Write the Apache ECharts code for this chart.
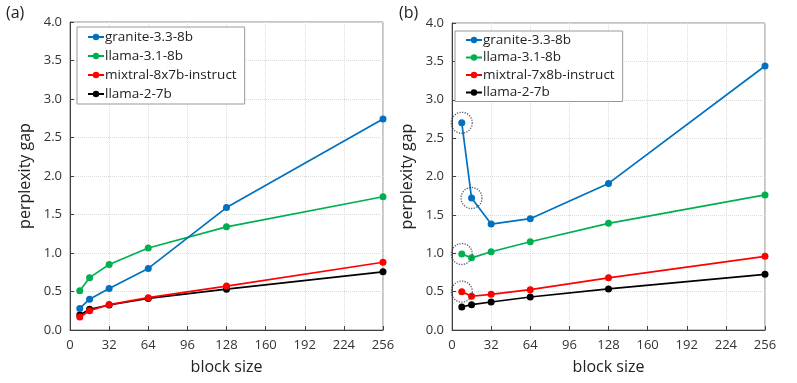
<!DOCTYPE html>
<html><head><meta charset="utf-8">
<script src="https://cdn.jsdelivr.net/npm/echarts@6/dist/echarts.min.js"></script>
<style>html,body{margin:0;padding:0;background:#fff}#c{width:797px;height:383px}</style>
</head><body><div id="c"></div>
<script>
const blockSizes = [8, 16, 32, 64, 128, 256];
const xTicks = [0, 32, 64, 96, 128, 160, 192, 224, 256];
const yTicks = [0, 0.5, 1.0, 1.5, 2.0, 2.5, 3.0, 3.5, 4.0];

const namesA = ['granite-3.3-8b', 'llama-3.1-8b', 'mixtral-8x7b-instruct', 'llama-2-7b'];
const namesB = ['granite-3.3-8b', 'llama-3.1-8b', 'mixtral-7x8b-instruct', 'llama-2-7b'];
const colors = ['#0070C0', '#00B050', '#FF0000', '#000000'];

// panel (a)
const graniteA = [0.28, 0.40, 0.54, 0.80, 1.59, 2.74];
const llama31A = [0.51, 0.68, 0.85, 1.065, 1.34, 1.73];
const mixtralA = [0.17, 0.25, 0.33, 0.42, 0.57, 0.88];
const llama2A  = [0.195, 0.27, 0.325, 0.41, 0.53, 0.755];

// panel (b)
const graniteB = [2.70, 1.72, 1.38, 1.45, 1.91, 3.44];
const llama31B = [0.99, 0.94, 1.02, 1.15, 1.39, 1.76];
const mixtralB = [0.50, 0.44, 0.465, 0.525, 0.68, 0.96];
const llama2B  = [0.30, 0.33, 0.365, 0.43, 0.535, 0.725];

// highlighted (circled) points in panel (b): [series index, point index]
const circled = [[0, 0], [0, 1], [1, 0], [2, 0]];

const seriesA = [graniteA, llama31A, mixtralA, llama2A];
const seriesB = [graniteB, llama31B, mixtralB, llama2B];

const FONT = 'Open Sans';
function pair(vals){ return vals.map((v,i)=>[blockSizes[i], v]); }

function makeX(idx){
  return {
    gridIndex: idx, type: 'value', min: xTicks[0], max: xTicks[xTicks.length-1], interval: 32,
    name: 'block size', nameLocation: 'middle', nameGap: 29,
    nameTextStyle: {fontFamily: FONT, fontSize: 16, color: '#222'},
    axisLine: {show: true, lineStyle: {color: '#404040', width: 1}},
    axisTick: {show: true, inside: true, length: 4, lineStyle: {color: '#404040'}},
    axisLabel: {fontFamily: FONT, fontSize: 13, color: '#333', margin: 9},
    splitLine: {show: true, lineStyle: {color: '#dcdcdc', type: 'dotted', width: 1}}
  };
}
function makeY(idx){
  return {
    gridIndex: idx, type: 'value', min: yTicks[0], max: yTicks[yTicks.length-1], interval: 0.5,
    name: 'perplexity gap', nameLocation: 'middle', nameGap: 37,
    nameTextStyle: {fontFamily: FONT, fontSize: 16, color: '#222'},
    axisLine: {show: true, lineStyle: {color: '#404040', width: 1}},
    axisTick: {show: true, inside: true, length: 4, lineStyle: {color: '#404040'}},
    axisLabel: {fontFamily: FONT, fontSize: 13, color: '#333', margin: 8, formatter: v => v.toFixed(1)},
    splitLine: {show: true, lineStyle: {color: '#dcdcdc', type: 'dotted', width: 1}}
  };
}

const series = [];
seriesA.forEach((vals, i) => series.push({
  name: namesA[i], type: 'line', xAxisIndex: 0, yAxisIndex: 0, data: pair(vals),
  symbol: 'circle', symbolSize: 7, color: colors[i], lineStyle: {width: 1.7}, z: 10 - i
}));
seriesB.forEach((vals, i) => series.push({
  name: namesB[i], type: 'line', xAxisIndex: 1, yAxisIndex: 1, data: pair(vals),
  symbol: 'circle', symbolSize: 7, color: colors[i], lineStyle: {width: 1.7}, z: 10 - i
}));
series.push({
  name: 'circled', type: 'scatter', xAxisIndex: 1, yAxisIndex: 1,
  data: circled.map(([s, p]) => [blockSizes[p], seriesB[s][p]]),
  symbol: 'circle', symbolSize: 21, silent: true, z: 20,
  itemStyle: {color: 'rgba(0,0,0,0)', borderColor: '#2F3B4C', borderWidth: 1.3, borderType: 'dotted'}
});

function legend(names, left, top, gap, pad){
  return {
    data: names.map((n,i)=>({name: n, itemStyle: {color: colors[i]}})),
    orient: 'vertical', left: left, top: top, itemWidth: 16, itemHeight: 8, itemGap: gap,
    padding: pad, borderColor: '#999', borderWidth: 1, backgroundColor: '#fff',
    textStyle: {fontFamily: FONT, fontSize: 13.5, lineHeight: 14, color: '#222', padding: [0,0,0,-4]},
    selectedMode: false
  };
}

const chart = echarts.init(document.getElementById('c'), null, {renderer: 'canvas'});
chart.setOption({
  animation: false,
  backgroundColor: '#fff',
  grid: [
    {left: 70, right: 414, top: 22, bottom: 53, show: true, borderColor: '#8c8c8c', borderWidth: 1},
    {left: 452, right: 32, top: 23, bottom: 53, show: true, borderColor: '#8c8c8c', borderWidth: 1}
  ],
  xAxis: [makeX(0), makeX(1)],
  yAxis: [makeY(0), makeY(1)],
  legend: [
    legend(namesA, 77, 27, 5, [3, 8, 3, 10]),
    legend(namesB, 455, 31, 3.5, [2, 8, 2, 10])
  ],
  graphic: [
    {type: 'text', left: 6, top: 5, style: {text: '(a)', fontFamily: FONT, fontSize: 16, fill: '#222'}},
    {type: 'text', left: 399, top: 5, style: {text: '(b)', fontFamily: FONT, fontSize: 16, fill: '#222'}}
  ],
  series: series
});
</script></body></html>
